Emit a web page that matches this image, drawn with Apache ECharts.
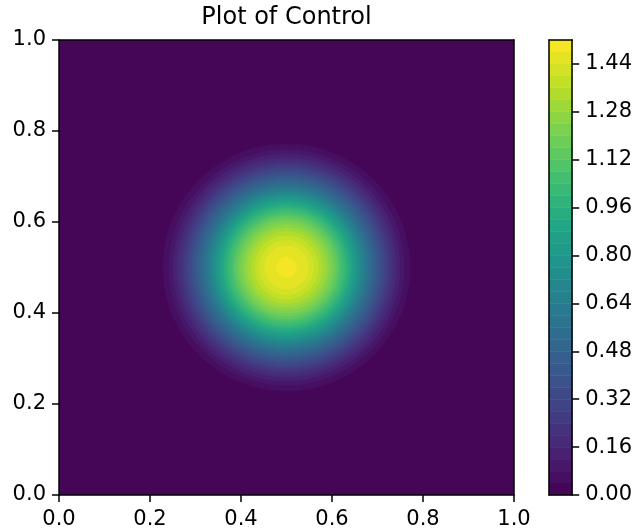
<!DOCTYPE html>
<html>
<head>
<meta charset="utf-8">
<script src="https://cdn.jsdelivr.net/npm/echarts@6/dist/echarts.min.js"></script>
<style>
  html, body { margin: 0; padding: 0; background: #ffffff; }
  #chart { width: 635px; height: 532px; }
</style>
</head>
<body>
<div id="chart"></div>
<script>
// Filled-contour levels of the control field (step 0.04)
const contourLevels = [
  0.00, 0.04, 0.08, 0.12, 0.16, 0.20, 0.24, 0.28, 0.32, 0.36,
  0.40, 0.44, 0.48, 0.52, 0.56, 0.60, 0.64, 0.68, 0.72, 0.76,
  0.80, 0.84, 0.88, 0.92, 0.96, 1.00, 1.04, 1.08, 1.12, 1.16,
  1.20, 1.24, 1.28, 1.32, 1.36, 1.40, 1.44, 1.48, 1.52
];

// Radius of the closed contour for each level from 0.04 to 1.48
const contourRadii = [
  0.2717, 0.2590, 0.2492, 0.2408, 0.2332, 0.2263, 0.2198, 0.2136, 0.2077,
  0.2020, 0.1965, 0.1911, 0.1858, 0.1805, 0.1754, 0.1705, 0.1660, 0.1615,
  0.1570, 0.1525, 0.1480, 0.1435, 0.1390, 0.1340, 0.1290, 0.1240, 0.1180,
  0.1130, 0.1070, 0.1010, 0.0940, 0.0870, 0.0790, 0.0700, 0.0600, 0.0480,
  0.0220
];

// Centre of the bump
const peakCenter = [0.5, 0.5];

// Domain of the plot
const domainX = [0, 1];
const domainY = [0, 1];

// Axis tick labels
const axisTicks = [0.0, 0.2, 0.4, 0.6, 0.8, 1.0];
const colorbarTicks = [0.00, 0.16, 0.32, 0.48, 0.64, 0.80, 0.96, 1.12, 1.28, 1.44];

// Viridis colour map stops
const viridisStops = ['#440154', '#482475', '#414487', '#355f8d', '#2a788e',
  '#21918c', '#22a884', '#44bf70', '#7ad151', '#bddf26', '#fde725'];

function hexToRgb(h) {
  return [parseInt(h.slice(1, 3), 16), parseInt(h.slice(3, 5), 16), parseInt(h.slice(5, 7), 16)];
}
function viridis(t) {
  t = Math.max(0, Math.min(1, t));
  const n = viridisStops.length - 1;
  const i = Math.min(n - 1, Math.floor(t * n));
  const f = t * n - i;
  const a = hexToRgb(viridisStops[i]), b = hexToRgb(viridisStops[i + 1]);
  const c = a.map((v, k) => Math.round(v + (b[k] - v) * f));
  return 'rgb(' + c.join(',') + ')';
}

const lvMin = contourLevels[0];
const lvMax = contourLevels[contourLevels.length - 1];
// colour of the band that starts at level index i
function bandColor(i) {
  const mid = (contourLevels[i] + contourLevels[i + 1]) / 2;
  return viridis((mid - lvMin) / (lvMax - lvMin));
}

// Contour bands: index 0 covers the whole domain, the rest are discs
const bandData = [];
bandData.push({ value: [peakCenter[0], peakCenter[1], -1, 0] });
contourRadii.forEach((r, k) => {
  bandData.push({ value: [peakCenter[0], peakCenter[1], r, k + 1] });
});

// Colour bar segments
const colorbarData = [];
for (let i = 0; i < contourLevels.length - 1; i++) {
  colorbarData.push({ value: [0, contourLevels[i], contourLevels[i + 1], i] });
}

const FONT = 'DejaVu Sans';
const BLACK = '#000000';
const LINE_W = 1.5;
const TICK_FONT = 21;

const mainAxisCommon = {
  type: 'value',
  z: 10,
  splitLine: { show: false },
  axisLine: { show: true, onZero: false, lineStyle: { color: BLACK, width: LINE_W } },
};

const chart = echarts.init(document.getElementById('chart'), null, { renderer: 'canvas' });

chart.setOption({
  animation: false,
  backgroundColor: '#ffffff',
  graphic: [{
    type: 'text',
    x: 286.5,
    y: 18,
    style: {
      text: 'Plot of Control',
      fill: BLACK,
      font: '24px "DejaVu Sans"',
      textAlign: 'center',
      textVerticalAlign: 'middle'
    }
  }],
  grid: [
    { left: 59, top: 40, width: 455, height: 455, show: false },
    { left: 549, top: 40, width: 24, height: 455, show: false }
  ],
  xAxis: [
    Object.assign({}, mainAxisCommon, {
      gridIndex: 0, position: 'bottom', min: domainX[0], max: domainX[1], interval: 0.2,
      axisTick: { show: true, inside: false, length: 7, lineStyle: { color: BLACK, width: LINE_W } },
      axisLabel: {
        show: true, margin: 14, color: BLACK, fontSize: TICK_FONT, fontFamily: FONT,
        customValues: axisTicks,
        formatter: v => v.toFixed(1)
      }
    }),
    Object.assign({}, mainAxisCommon, {
      gridIndex: 0, position: 'top', min: domainX[0], max: domainX[1],
      axisTick: { show: false }, axisLabel: { show: false }
    }),
    Object.assign({}, mainAxisCommon, {
      gridIndex: 1, position: 'bottom', min: 0, max: 1,
      axisTick: { show: false }, axisLabel: { show: false }
    }),
    Object.assign({}, mainAxisCommon, {
      gridIndex: 1, position: 'top', min: 0, max: 1,
      axisTick: { show: false }, axisLabel: { show: false }
    })
  ],
  yAxis: [
    Object.assign({}, mainAxisCommon, {
      gridIndex: 0, position: 'left', min: domainY[0], max: domainY[1], interval: 0.2,
      axisTick: { show: true, inside: false, length: 7, lineStyle: { color: BLACK, width: LINE_W } },
      axisLabel: {
        show: true, margin: 13, color: BLACK, fontSize: TICK_FONT, fontFamily: FONT,
        customValues: axisTicks,
        formatter: v => v.toFixed(1)
      }
    }),
    Object.assign({}, mainAxisCommon, {
      gridIndex: 0, position: 'right', min: domainY[0], max: domainY[1],
      axisTick: { show: false }, axisLabel: { show: false }
    }),
    Object.assign({}, mainAxisCommon, {
      gridIndex: 1, position: 'right', min: lvMin, max: lvMax,
      axisTick: {
        show: true, inside: false, length: 7, customValues: colorbarTicks,
        lineStyle: { color: BLACK, width: LINE_W }
      },
      axisLabel: {
        show: true, margin: 13, color: BLACK, fontSize: TICK_FONT, fontFamily: FONT,
        customValues: colorbarTicks,
        formatter: v => v.toFixed(2)
      }
    }),
    Object.assign({}, mainAxisCommon, {
      gridIndex: 1, position: 'left', min: lvMin, max: lvMax,
      axisTick: { show: false }, axisLabel: { show: false }
    })
  ],
  series: [
    {
      type: 'custom',
      name: 'Control',
      xAxisIndex: 0,
      yAxisIndex: 0,
      data: bandData,
      encode: { x: 0, y: 1 },
      clip: true,
      renderItem: function (params, api) {
        const r = api.value(2);
        const idx = api.value(3);
        const fill = bandColor(idx);
        if (r < 0) {
          const p0 = api.coord([domainX[0], domainY[1]]);
          const p1 = api.coord([domainX[1], domainY[0]]);
          return {
            type: 'rect',
            shape: { x: p0[0], y: p0[1], width: p1[0] - p0[0], height: p1[1] - p0[1] },
            style: { fill: fill }
          };
        }
        const c = api.coord([api.value(0), api.value(1)]);
        const e = api.coord([api.value(0) + r, api.value(1)]);
        return {
          type: 'circle',
          shape: { cx: c[0], cy: c[1], r: e[0] - c[0] },
          style: { fill: fill, stroke: fill, lineWidth: 0.6 }
        };
      }
    },
    {
      type: 'custom',
      name: 'Colorbar',
      xAxisIndex: 2,
      yAxisIndex: 2,
      data: colorbarData,
      encode: { x: 0, y: [1, 2] },
      renderItem: function (params, api) {
        const lo = api.coord([0, api.value(1)]);
        const hi = api.coord([1, api.value(2)]);
        const fill = bandColor(api.value(3));
        return {
          type: 'rect',
          shape: { x: lo[0], y: hi[1], width: hi[0] - lo[0], height: lo[1] - hi[1] },
          style: { fill: fill, stroke: fill, lineWidth: 0.5 }
        };
      }
    }
  ]
});
</script>
</body>
</html>
